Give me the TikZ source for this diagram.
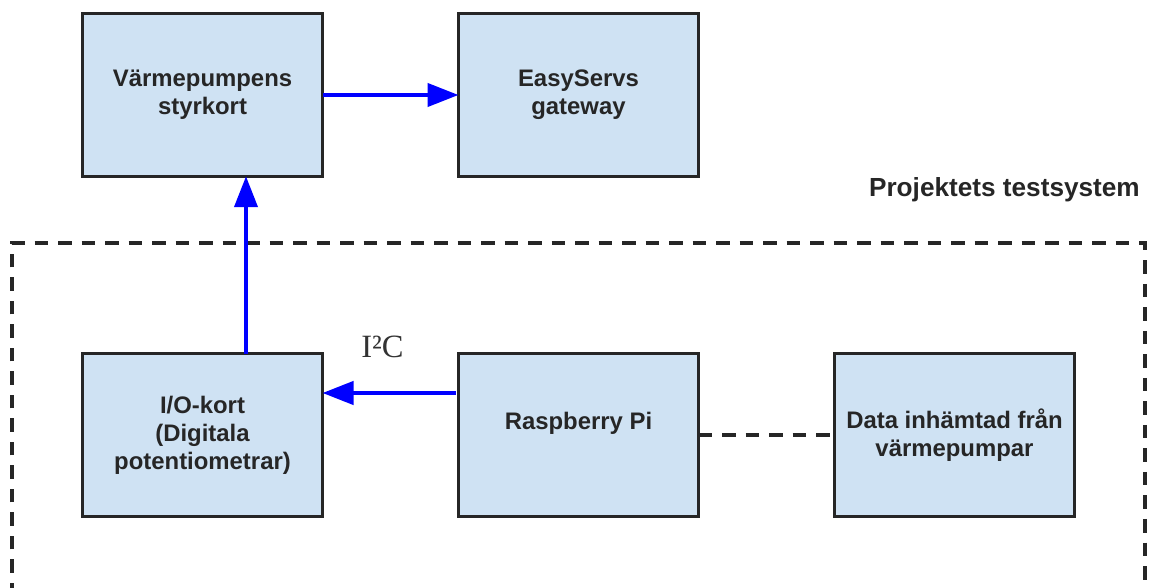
\documentclass[tikz,border=0pt]{standalone}
\usepackage{fontspec}
\setmainfont{Liberation Sans}
\newfontfamily\seriffont{Liberation Serif}
\usetikzlibrary{positioning,arrows.meta}
\definecolor{boxblue}{HTML}{CFE2F3}
\definecolor{linkblue}{HTML}{0000FF}

\begin{document}
\begin{tikzpicture}[node distance=3.55cm and 2.72cm, every node/.style={font=\fontsize{13.6}{16}\selectfont\bfseries}]

    % Styles for the blocks and links
    \tikzset{
        blockbox/.style={draw=black!85, fill=boxblue, line width=1.8pt, minimum width=4.8cm, minimum height=3.25cm, align=center, text=black!85, inner sep=0pt, outer sep=0pt},
        arrow/.style={-{Triangle[length=0.62cm,width=0.46cm]}, linkblue, line width=2.4pt},
        dashline/.style={black!85, line width=2.1pt, dash pattern=on 0.27cm off 0.2cm}
    }

    % Page frame
    \clip (0,0) rectangle (23.08,-11.76);

    % Upper row
    \node[blockbox] (ctrl) at (4.05,-1.9) {Värmepumpens\\styrkort};
    \node[blockbox, right=of ctrl] (gw) {EasyServs\\gateway};

    % Test system frame
    \node[anchor=east, text=black!85, font=\fontsize{14.9}{17}\selectfont\bfseries] (title) at (22.92,-3.8) {Projektets testsystem};
    \draw[dashline] (0.24,-12.4) rectangle (22.9,-4.86);

    % Lower row
    \node[blockbox, below=of ctrl] (io) {I/O-kort\\(Digitala\\potentiometrar)};
    \node[blockbox, right=of io] (rpi) {Raspberry Pi\\\mbox{}};
    \node[blockbox, right=of rpi] (data) {Data inhämtad från\\värmepumpar};

    % Links
    \draw[arrow] (ctrl.east) -- (gw.west);
    \draw[arrow] ([xshift=0.87cm]io.north) -- ([xshift=0.87cm]ctrl.south);
    \draw[arrow, shorten <=0.06cm] ([yshift=0.84cm]rpi.west) -- ([yshift=0.84cm]io.east)
        node[midway, yshift=0.92cm, xshift=-0.16cm, text=black!80, font=\seriffont\fontsize{18.5}{20}\selectfont] (bus) {I²C};
    \draw[dashline] (rpi.east) -- (data.west);

\end{tikzpicture}
\end{document}
